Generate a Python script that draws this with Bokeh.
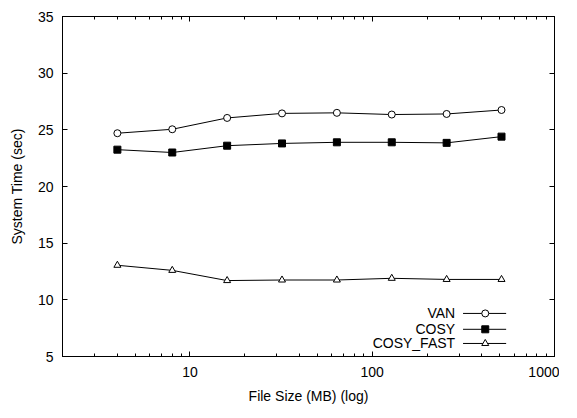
from bokeh.plotting import figure
from bokeh.models import (FixedTicker, LinearAxis, LogAxis, Label, Range1d,
                          PrintfTickFormatter)
from bokeh.embed import file_html
from bokeh.resources import INLINE

# ---- data ----
file_sizes = [4, 8, 16, 32, 64, 128, 256, 512]
van = [24.7, 25.05, 26.05, 26.45, 26.5, 26.35, 26.4, 26.75]
cosy = [23.25, 23.0, 23.6, 23.8, 23.9, 23.9, 23.85, 24.4]
cosy_fast = [13.05, 12.6, 11.7, 11.75, 11.75, 11.9, 11.8, 11.8]
series_names = ["VAN", "COSY", "COSY_FAST"]
x_major = [10, 100, 1000]
x_minor = [2, 3, 4, 5, 6, 7, 8, 9, 20, 30, 40, 50, 60, 70, 80, 90,
           200, 300, 400, 500, 600, 700, 800, 900]
y_major = [5, 10, 15, 20, 25, 30, 35]

FONT = "Liberation Sans"
FS = "14px"

p = figure(frame_width=492, frame_height=340, x_axis_type="log",
           x_range=Range1d(2, 1000), y_range=Range1d(5, 35),
           output_backend="svg", toolbar_location=None,
           min_border_left=62, min_border_right=5, min_border_top=16,
           min_border_bottom=46)
p.grid.visible = False
p.outline_line_color = "black"
p.outline_line_width = 1
p.background_fill_color = "white"
p.border_fill_color = "white"

xt = FixedTicker(ticks=x_major, minor_ticks=x_minor)
yt = FixedTicker(ticks=y_major)

xa = p.xaxis[0]
xa.ticker = xt
xa.formatter = PrintfTickFormatter(format="%d")
xa.axis_label = "File Size (MB) (log)"
ya = p.yaxis[0]
ya.ticker = yt
ya.axis_label = "System Time (sec)"

for ax in (xa, ya):
    ax.axis_line_color = "black"
    ax.major_tick_in = 5
    ax.major_tick_out = 0
    ax.minor_tick_in = 3
    ax.minor_tick_out = 0
    ax.major_tick_line_color = "black"
    ax.minor_tick_line_color = "black"
    ax.major_label_text_font = FONT
    ax.major_label_text_font_size = FS
    ax.major_label_text_color = "black"
    ax.axis_label_text_font = FONT
    ax.axis_label_text_font_size = FS
    ax.axis_label_text_font_style = "normal"
    ax.axis_label_text_color = "black"
ya.minor_tick_line_color = None
xa.major_label_standoff = 10
xa.axis_label_standoff = 8
ya.major_label_standoff = 9
ya.axis_label_standoff = 10

top = LogAxis(ticker=FixedTicker(ticks=x_major, minor_ticks=x_minor))
right = LinearAxis(ticker=FixedTicker(ticks=y_major))
for ax in (top, right):
    ax.major_label_text_font_size = "1px"
    ax.major_label_text_color = None
    ax.major_label_standoff = 0
    ax.major_tick_in = 5
    ax.major_tick_out = 0
    ax.minor_tick_in = 3
    ax.minor_tick_out = 0
    ax.axis_line_color = "black"
right.minor_tick_line_color = None
p.add_layout(top, "above")
p.add_layout(right, "right")

# series
p.line(file_sizes, van, line_color="black", line_width=1)
p.scatter(file_sizes, van, marker="circle", size=7, fill_color="white",
          line_color="black", line_width=1)
p.line(file_sizes, cosy, line_color="black", line_width=1)
p.scatter(file_sizes, cosy, marker="square", size=7, fill_color="black",
          line_color="black")
p.line(file_sizes, cosy_fast, line_color="black", line_width=1)
p.scatter(file_sizes, cosy_fast, marker="triangle", size=7, fill_color="white",
          line_color="black", line_width=1)

# legend (sample line with marker to the right of right-aligned label)
leg_y = [8.8, 7.4, 6.15]
leg_text_x = 285
leg_line = [315, 543]
leg_mark_x = 417
markers = [("circle", "white"), ("square", "black"), ("triangle", "white")]
for name, yy, (mk, fc) in zip(series_names, leg_y, markers):
    p.add_layout(Label(x=leg_text_x, y=yy, text=name, text_align="right",
                       text_baseline="middle", text_font=FONT,
                       text_font_size=FS, text_color="black"))
    p.line(leg_line, [yy, yy], line_color="black", line_width=1)
    p.scatter([leg_mark_x], [yy], marker=mk, size=7, fill_color=fc,
              line_color="black")

open("out.html", "w").write(file_html(p, INLINE))
